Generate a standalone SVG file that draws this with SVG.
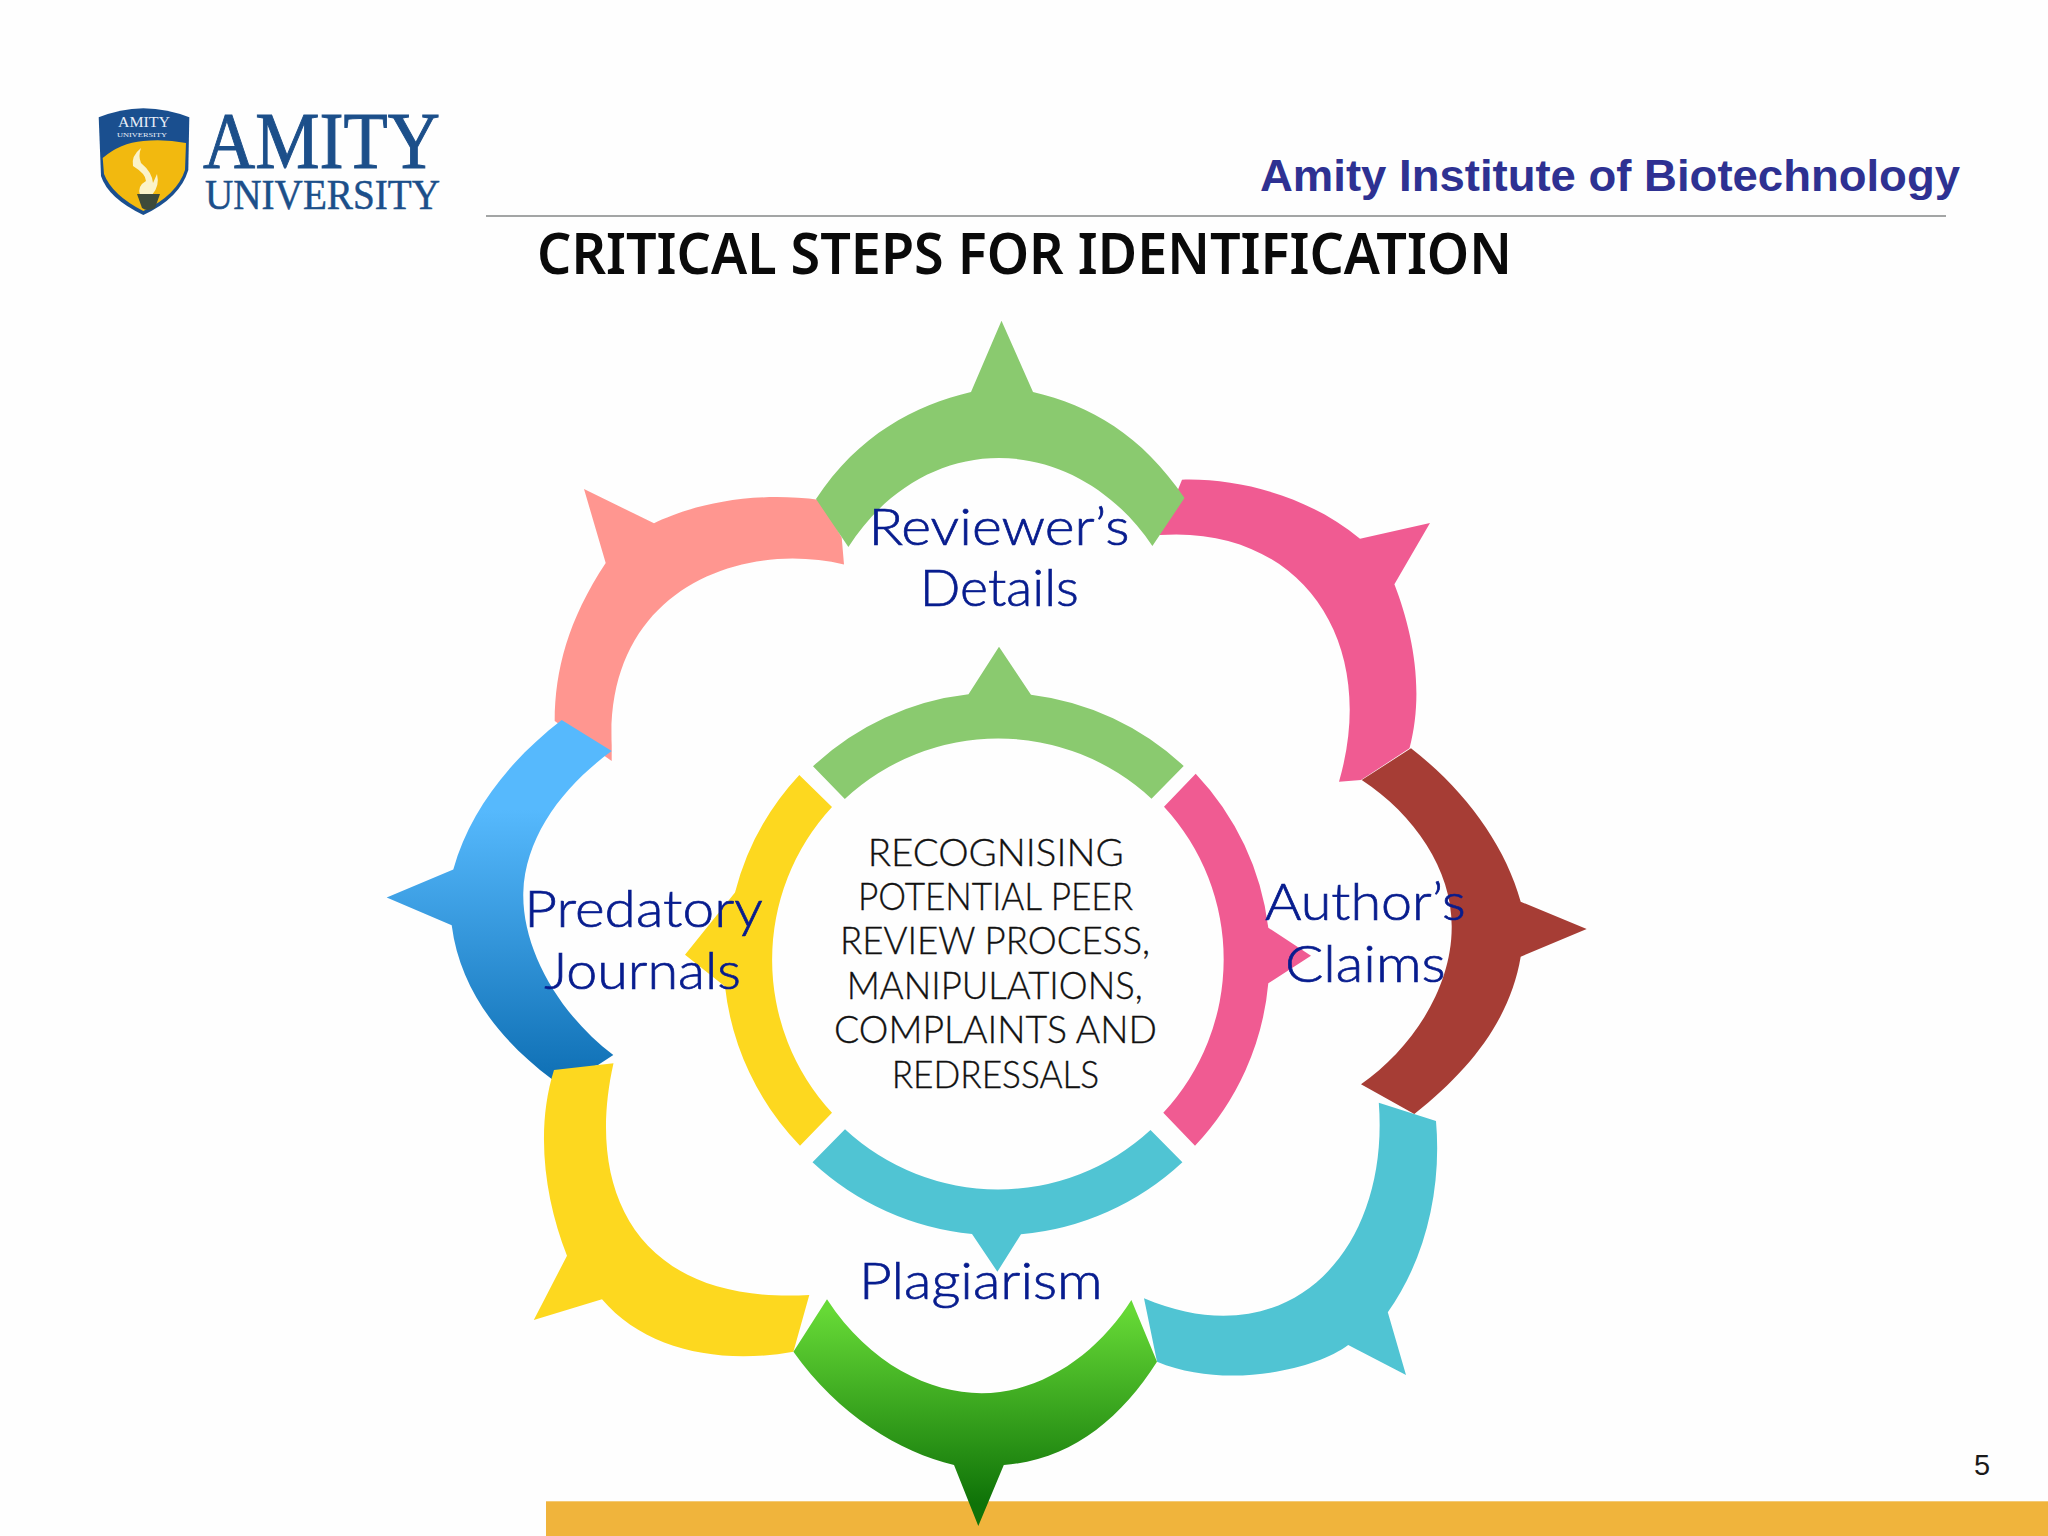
<svg xmlns="http://www.w3.org/2000/svg" width="2048" height="1536" viewBox="0 0 2048 1536">
<style>
.seg{stroke:none}
.green{fill:#8aca6f}.pink{fill:#f05b92}.cyan{fill:#50c4d3}.yellow{fill:#fdd81f}.coral{fill:#ff9690}.brown{fill:#a63d35}
.lab{font-family:"Lato","Inter","Noto Sans",sans-serif;font-weight:300;font-size:52px;fill:#071c8e;stroke:#071c8e;stroke-width:.7px}
.mid{font-family:"Lato","Inter","Noto Sans",sans-serif;font-weight:300;font-size:37px;fill:#111;stroke:#111;stroke-width:.35px}
.logo{font-family:"Liberation Serif",serif;fill:#1c4f8a;stroke:#1c4f8a}
</style>
<defs>
<linearGradient id="gBlue" x1="0" y1="0" x2="0" y2="1"><stop offset="0.25" stop-color="#56b9fd"/><stop offset="1" stop-color="#0f70b5"/></linearGradient>
<linearGradient id="gGreen" x1="0" y1="0" x2="0" y2="1"><stop offset="0.05" stop-color="#66d936"/><stop offset="0.9" stop-color="#0f7308"/></linearGradient>
</defs>
<rect width="2048" height="1536" fill="#fefefe"/>
<g id="logo">
<path d="M98.7,117.3 Q120,109 143.3,108.3 Q168,109 189.3,117.3 L188.3,170 Q180,198 143.3,215 Q108,198 101,176 Z" fill="#1a4f8f"/>
<path d="M102.7,158 Q120,143 143.3,141 Q165,139 186,143 L185,170 Q177,195 143.3,211 Q112,195 104,174 Z" fill="#f2b90f"/>
<path d="M141,148 Q131,156 133,166 Q146,174 146,181 Q137,186 140,195 L152,195 Q160,186 157,174 L153,183 Q152,172 141,163 Q138,156 141,148 Z" fill="#fbf3c9"/>
<path d="M137,194 L160,194 L155,208 Q147,212 142,208 Z" fill="#3d4a3a"/>
<text class="logo" x="118" y="126.5" font-size="15" textLength="52" lengthAdjust="spacingAndGlyphs" style="fill:#e8eef7;stroke:none">AMITY</text>
<text class="logo" x="117" y="137" font-size="6.5" textLength="50" lengthAdjust="spacingAndGlyphs" style="fill:#e8eef7;stroke:none">UNIVERSITY</text>
<text class="logo" x="203" y="168.3" font-size="81" stroke-width="1" textLength="237" lengthAdjust="spacingAndGlyphs">AMITY</text>
<text class="logo" x="205" y="209.3" font-size="42" stroke-width=".5" textLength="235" lengthAdjust="spacingAndGlyphs">UNIVERSITY</text>
</g>
<g id="header">
<text x="1260" y="190.7" font-family="Liberation Sans, sans-serif" font-weight="700" font-size="44" fill="#2e3192" textLength="700" lengthAdjust="spacingAndGlyphs">Amity Institute of Biotechnology</text>
<rect x="486" y="215" width="1460" height="2" fill="#a3a5a5"/>
<text x="537" y="274.3" font-family="Noto Sans, sans-serif" font-weight="600" font-size="58" fill="#0a0a0a" textLength="975" lengthAdjust="spacingAndGlyphs">CRITICAL STEPS FOR IDENTIFICATION</text>
</g>
<rect id="footer-bar" x="546" y="1501.3" width="1502" height="34.7" fill="#f0b43c"/>
<g id="outer-coral"><path class="seg coral" d="M554.7,721 C555,670 568,620 605.7,563 L584,489 L654,523.3 C685,508 745,490 820,500 L841.7,537.6 L844,564.5 C740,540 605,590 611.7,745 L611.7,761 Z"/></g>
<g id="outer-pink"><path class="seg pink" d="M1182,479.7 C1240,478 1310,497 1360,538.7 L1430,523 L1394.4,584.3 C1412,630 1425,690 1409.5,748.3 L1361,780 L1339,781.7 C1380,640 1300,525 1159.5,535 Z"/></g>
<g id="outer-cyan"><path class="seg cyan" d="M1378.8,1102.7 L1436,1121 C1442,1190 1425,1260 1387.8,1312.3 L1406,1375 L1348.2,1345 C1315,1370 1225,1390 1157,1361.7 L1144,1298.3 C1290,1360 1390,1250 1378.8,1102.7 Z"/></g>
<g id="outer-green"><path class="seg green" d="M816,499 C858,435 915,405 971,392 L1001.5,320.7 L1033,392 C1090,405 1142,435 1184.5,498 L1152.4,546 C1115,490 1058,458 999,458 C940,458 885,490 848.4,547 Z"/></g>
<g id="outer-brown"><path class="seg brown" d="M1411,748.3 C1465,790 1505,845 1520.7,901.7 L1586.7,929 L1520.7,956.7 C1510,1020 1470,1070 1414.3,1114 L1361,1084.3 C1410,1050 1452,990 1451.7,926.7 C1452,870 1415,815 1361.7,780 Z"/></g>
<g id="outer-blue"><path class="seg" fill="url(#gBlue)" d="M561.7,720 L611.7,751 C565,785 525,835 523.3,892.7 C522,950 560,1015 613.3,1055 L598,1065 L551.7,1079 C500,1040 460,990 451.7,925.3 L386.7,897.6 L453.3,869.4 C470,810 510,760 561.7,720 Z"/></g>
<g id="outer-yellow"><path class="seg yellow" d="M554,1070 L613.5,1063.3 C585,1190 635,1305 809.3,1295 L793.4,1351.7 C720,1365 645,1350 602,1299.3 L533.8,1320 L567,1255.7 C545,1200 535,1130 554,1070 Z"/></g>
<g id="outer-darkgreen"><path class="seg" fill="url(#gGreen)" d="M827,1299.3 C870,1365 930,1393 981.5,1393.3 C1045,1393 1100,1350 1131.4,1300 L1157,1361.7 C1120,1420 1070,1460 1003.8,1465 L978.3,1526 L954,1465 C900,1452 838,1415 793.4,1351.7 Z"/></g>
<g id="inner-green"><path class="seg green" d="M813,766.3 A272,272 0 0 1 968.5,694.3 L999,646.7 L1031,694.7 A272,272 0 0 1 1183.7,766 L1151.5,798.7 A225,225 0 0 0 844.8,799 Z"/></g>
<g id="inner-pink"><path class="seg pink" d="M1195.7,773.7 A272,272 0 0 1 1268.3,927.7 L1311,955.7 L1268.3,983.3 A272,272 0 0 1 1195,1145.7 L1163.3,1112.7 A225,225 0 0 0 1164,806.7 Z"/></g>
<g id="inner-cyan"><path class="seg cyan" d="M1182.4,1162.3 A272,272 0 0 1 1021,1234.3 L997.4,1271.7 L972,1234 A272,272 0 0 1 812.5,1162.3 L845,1129.3 A225,225 0 0 0 1150.5,1130 Z"/></g>
<g id="inner-yellow"><path class="seg yellow" d="M800,1145.7 A272,272 0 0 1 725,986.5 L685,954.7 L735,892.6 A272,272 0 0 1 799.3,775 L832,807 A225,225 0 0 0 832,1112.7 Z"/></g>
<g id="centre">
<text class="mid" x="867.7" y="866" textLength="256" lengthAdjust="spacingAndGlyphs">RECOGNISING</text>
<text class="mid" x="858" y="910" textLength="275" lengthAdjust="spacingAndGlyphs">POTENTIAL PEER</text>
<text class="mid" x="840" y="954.3" textLength="310" lengthAdjust="spacingAndGlyphs">REVIEW PROCESS,</text>
<text class="mid" x="846.7" y="999" textLength="296" lengthAdjust="spacingAndGlyphs">MANIPULATIONS,</text>
<text class="mid" x="834" y="1043.3" textLength="323" lengthAdjust="spacingAndGlyphs">COMPLAINTS AND</text>
<text class="mid" x="891.7" y="1087.7" textLength="207.5" lengthAdjust="spacingAndGlyphs">REDRESSALS</text>
</g>
<g id="labels">
<text class="lab" x="868.5" y="545" textLength="261" lengthAdjust="spacingAndGlyphs">Reviewer’s</text>
<text class="lab" x="919.8" y="605.7" textLength="159" lengthAdjust="spacingAndGlyphs">Details</text>
<text class="lab" x="1265" y="920" textLength="200.7" lengthAdjust="spacingAndGlyphs">Author’s</text>
<text class="lab" x="1285" y="981.7" textLength="160.7" lengthAdjust="spacingAndGlyphs">Claims</text>
<text class="lab" x="524.3" y="927.3" textLength="238.4" lengthAdjust="spacingAndGlyphs">Predatory</text>
<text class="lab" x="544.3" y="988.6" textLength="196.7" lengthAdjust="spacingAndGlyphs">Journals</text>
<text class="lab" x="859" y="1299" textLength="243.7" lengthAdjust="spacingAndGlyphs">Plagiarism</text>
</g>
<text id="page-number" x="1974" y="1475" font-family="Liberation Sans, sans-serif" font-size="29" fill="#1a1a1a">5</text>
</svg>
